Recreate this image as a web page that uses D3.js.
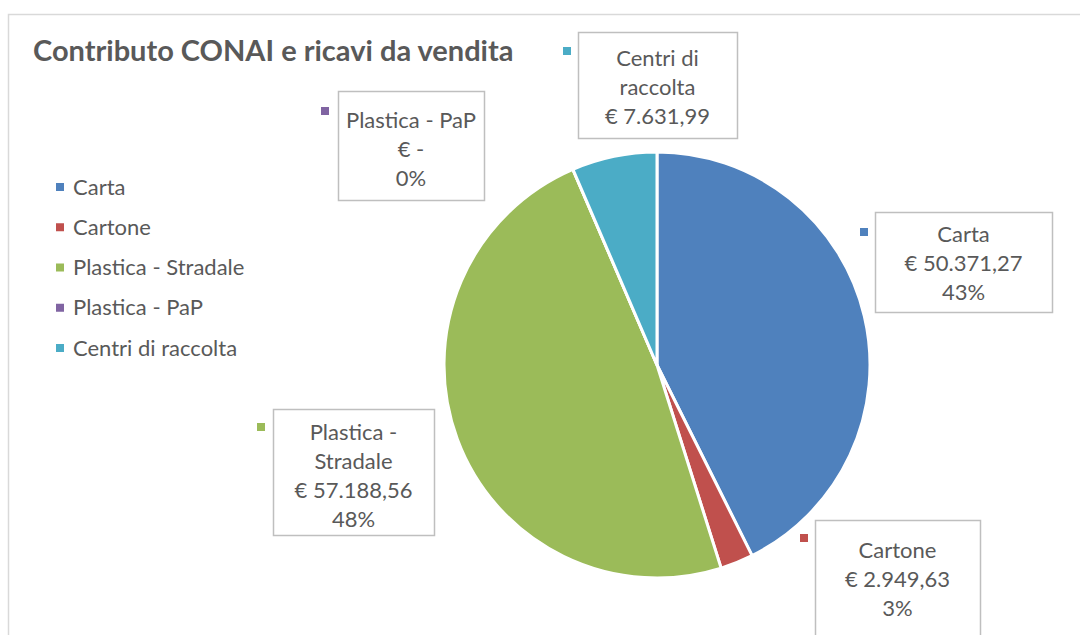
<!DOCTYPE html>
<html>
<head>
<meta charset="utf-8">
<script src="https://cdn.jsdelivr.net/npm/d3@7"></script>
<style>
  html, body { margin: 0; padding: 0; background: #fff; }
  svg { display: block; }
  text { font-family: Lato, "Open Sans", sans-serif; fill: #595959; }
</style>
</head>
<body>
<svg id="chart" width="1080" height="635"></svg>
<script>
// ---- data ----
const title = "Contributo CONAI e ricavi da vendita";
const categories = ["Carta", "Cartone", "Plastica - Stradale", "Plastica - PaP", "Centri di raccolta"];
const values = [50371.27, 2949.63, 57188.56, 0, 7631.99];
const valueLabels = ["€ 50.371,27", "€ 2.949,63", "€ 57.188,56", "€ -", "€ 7.631,99"];
const percentLabels = ["43%", "3%", "48%", "0%", ""];
const nameLines = [["Carta"], ["Cartone"], ["Plastica -", "Stradale"], ["Plastica - PaP"], ["Centri di", "raccolta"]];
const colors = ["#4F81BD", "#C0504D", "#9BBB59", "#8064A2", "#4BACC6"];

// ---- layout (positions of data label boxes) ----
const labelBoxes = [
  {x: 875, y: 212, w: 177, h: 100, mx: 860, my: 228, ty: 234},
  {x: 815, y: 520, w: 165, h: 130, mx: 800, my: 534, ty: 550},
  {x: 273, y: 409, w: 161, h: 126, mx: 257, my: 423, ty: 432},
  {x: 338, y: 91,  w: 146, h: 109, mx: 321, my: 107, ty: 120},
  {x: 578, y: 32,  w: 159, h: 106, mx: 563, my: 47,  ty: 58}
];

const svg = d3.select("#chart");

// chart frame
svg.append("rect")
  .attr("x", 8.5).attr("y", 14.5)
  .attr("width", 1200).attr("height", 800)
  .attr("fill", "#fff").attr("stroke", "#D9D9D9").attr("stroke-width", 1.5);

// title
svg.append("text")
  .attr("x", 33).attr("y", 61)
  .attr("font-size", 29).attr("font-weight", "bold")
  .text(title);

// pie
const cx = 657, cy = 365, r = 213;
const pie = d3.pie().sort(null).value(d => d)(values);
const arc = d3.arc().innerRadius(0).outerRadius(r);
const g = svg.append("g").attr("transform", `translate(${cx},${cy})`);
g.selectAll("path")
  .data(pie)
  .join("path")
  .attr("d", arc)
  .attr("fill", (d, i) => colors[i])
  .attr("stroke", "#fff")
  .attr("stroke-width", 3)
  .attr("stroke-linejoin", "round");

// legend
const legend = svg.append("g");
const legendY = d3.scalePoint().domain(categories).range([187, 348]);
categories.forEach((c, i) => {
  const y = legendY(c);
  legend.append("rect")
    .attr("x", 56).attr("y", y - 4).attr("width", 8).attr("height", 8)
    .attr("fill", colors[i]);
  legend.append("text")
    .attr("x", 73).attr("y", y).attr("dy", "0.35em")
    .attr("font-size", 22)
    .text(c);
});

// data labels
const lineH = 29;
categories.forEach((c, i) => {
  const b = labelBoxes[i];
  const lines = nameLines[i].concat([valueLabels[i]]).concat(percentLabels[i] ? [percentLabels[i]] : []);
  const grp = svg.append("g");
  grp.append("rect")
    .attr("x", b.x + 0.5).attr("y", b.y + 0.5)
    .attr("width", b.w).attr("height", b.h)
    .attr("fill", "#fff").attr("stroke", "#BFBFBF").attr("stroke-width", 1.5);
  grp.append("rect")
    .attr("x", b.mx).attr("y", b.my).attr("width", 8).attr("height", 8)
    .attr("fill", colors[i]);
  lines.forEach((t, k) => {
    grp.append("text")
      .attr("x", b.x + b.w / 2)
      .attr("y", b.ty + k * lineH)
      .attr("dy", "0.35em")
      .attr("text-anchor", "middle")
      .attr("font-size", 22)
      .text(t);
  });
});
</script>
</body>
</html>
